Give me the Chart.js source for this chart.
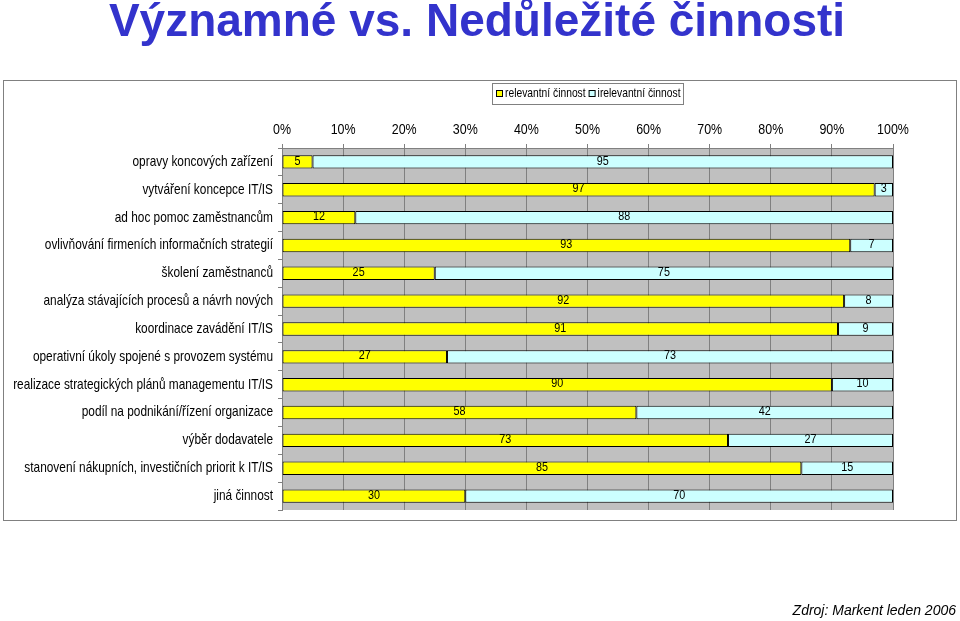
<!DOCTYPE html>
<html>
<head>
<meta charset="utf-8">
<title>Významné vs. Nedůležité činnosti</title>
<script src="https://cdn.jsdelivr.net/npm/chart.js@4.4.1/dist/chart.umd.min.js"></script>
<style>
  html, body { margin: 0; padding: 0; background: #fff; }
  #chart { display: block; }
</style>
</head>
<body>
<canvas id="chart" width="960" height="621"></canvas>
<script>
// Chart data
const categories = [
  'opravy koncových zařízení',
  'vytváření koncepce IT/IS',
  'ad hoc pomoc zaměstnancům',
  'ovlivňování firmeních informačních strategií',
  'školení zaměstnanců',
  'analýza stávajících procesů a návrh nových',
  'koordinace zavádění IT/IS',
  'operativní úkoly spojené s provozem systému',
  'realizace strategických plánů managementu IT/IS',
  'podíl na podnikání/řízení organizace',
  'výběr dodavatele',
  'stanovení nákupních, investičních priorit k IT/IS',
  'jiná činnost'
];
const relevant = [5, 97, 12, 93, 25, 92, 91, 27, 90, 58, 73, 85, 30];
const irrelevant = [95, 3, 88, 7, 75, 8, 9, 73, 10, 42, 27, 15, 70];
const seriesNames = ['relevantní činnost', 'irelevantní činnost'];
const seriesColors = ['#FFFF00', '#CCFFFF'];

const SANS = "'Liberation Sans', Arial, sans-serif";
const NARROW_SCALE = 0.83;

// no narrow Arial installed, so squeeze Liberation Sans horizontally
function narrowText(ctx, text, x, y, align, size, style) {
  ctx.save();
  ctx.font = (style ? style + ' ' : '') + size + 'px ' + SANS;
  ctx.textAlign = align;
  ctx.textBaseline = 'middle';
  ctx.translate(x, y);
  ctx.scale(NARROW_SCALE, 1);
  ctx.fillText(text, 0, 0);
  const w = ctx.measureText(text).width * NARROW_SCALE;
  ctx.restore();
  return w;
}

// Frame, plot background, title, legend, source, axis labels
const decorations = {
  id: 'decorations',
  beforeDraw(chart) {
    const ctx = chart.ctx;
    const area = chart.chartArea;
    ctx.save();
    ctx.fillStyle = '#ffffff';
    ctx.fillRect(0, 0, chart.width, chart.height);
    ctx.strokeStyle = '#808080';
    ctx.lineWidth = 1;
    ctx.strokeRect(3.5, 80.5, 953, 440);
    ctx.fillStyle = '#C0C0C0';
    ctx.fillRect(area.left, area.top, area.right - area.left, area.bottom - area.top);
    ctx.restore();
  },
  afterDraw(chart) {
    const ctx = chart.ctx;
    ctx.save();
    // title
    ctx.fillStyle = '#3333CC';
    ctx.font = 'bold 46px ' + SANS;
    ctx.textAlign = 'center';
    ctx.textBaseline = 'alphabetic';
    ctx.fillText('Významné vs. Nedůležité činnosti', 477, 36);

    // legend
    ctx.strokeStyle = '#808080';
    ctx.lineWidth = 1;
    ctx.strokeRect(492.5, 83.5, 191, 21);
    let x = 496;
    seriesNames.forEach((name, i) => {
      ctx.fillStyle = seriesColors[i];
      ctx.fillRect(x, 90, 7, 7);
      ctx.strokeStyle = '#000';
      ctx.strokeRect(x + 0.5, 90.5, 6, 6);
      ctx.fillStyle = '#000';
      const w = narrowText(ctx, name, x + 9, 94, 'left', 12.4);
      x += 9 + w + 3;
    });

    // axis labels
    ctx.fillStyle = '#000';
    const xs = chart.scales.x;
    xs.ticks.forEach(t => {
      narrowText(ctx, t.value + '%', xs.getPixelForValue(t.value), 130, 'center', 15);
    });
    const ys = chart.scales.y;
    categories.forEach((c, i) => {
      narrowText(ctx, c, 273, ys.getPixelForValue(i), 'right', 14.3);
    });

    // source
    ctx.font = 'italic 14px ' + SANS;
    ctx.textAlign = 'right';
    ctx.textBaseline = 'alphabetic';
    ctx.fillStyle = '#000';
    ctx.fillText('Zdroj: Markent leden 2006', 956, 615);
    ctx.restore();
  }
};

// Values in the middle of each segment
const segmentLabels = {
  id: 'segmentLabels',
  afterDatasetsDraw(chart) {
    const ctx = chart.ctx;
    ctx.save();
    ctx.fillStyle = '#000';
    chart.data.datasets.forEach((ds, i) => {
      chart.getDatasetMeta(i).data.forEach((bar, j) => {
        const cx = (bar.x + bar.base) / 2;
        narrowText(ctx, String(ds.data[j]), cx, bar.y - 1, 'center', 13);
      });
    });
    ctx.restore();
  }
};

const chart = new Chart(document.getElementById('chart').getContext('2d'), {
  type: 'bar',
  data: {
    labels: categories,
    datasets: [
      {
        label: seriesNames[0],
        data: relevant,
        backgroundColor: seriesColors[0],
        borderColor: '#000',
        borderWidth: 1,
        borderSkipped: false,
        barPercentage: 0.48,
        categoryPercentage: 1
      },
      {
        label: seriesNames[1],
        data: irrelevant,
        backgroundColor: seriesColors[1],
        borderColor: '#000',
        borderWidth: 1,
        borderSkipped: false,
        barPercentage: 0.48,
        categoryPercentage: 1
      }
    ]
  },
  options: {
    indexAxis: 'y',
    responsive: false,
    animation: false,
    layout: { padding: { left: 0, right: 67, top: 118, bottom: 111 } },
    plugins: {
      legend: { display: false },
      tooltip: { enabled: false },
      title: { display: false }
    },
    scales: {
      x: {
        position: 'top',
        stacked: true,
        min: 0,
        max: 100,
        afterFit(scale) { scale.height = 30; },
        ticks: {
          stepSize: 10,
          autoSkip: false,
          maxRotation: 0,
          color: 'rgba(0,0,0,0)',
          font: { family: SANS, size: 13 },
          callback: v => v + '%'
        },
        grid: { color: '#808080', drawTicks: true, tickLength: 4 },
        border: { display: true, color: '#808080' }
      },
      y: {
        stacked: true,
        afterFit(scale) { scale.width = 282; },
        ticks: {
          autoSkip: false,
          color: 'rgba(0,0,0,0)',
          font: { family: SANS, size: 12 }
        },
        grid: { offset: true, drawOnChartArea: false, drawTicks: true, tickLength: 4, color: '#808080' },
        border: { display: true, color: '#808080' }
      }
    }
  },
  plugins: [decorations, segmentLabels]
});
</script>
</body>
</html>
